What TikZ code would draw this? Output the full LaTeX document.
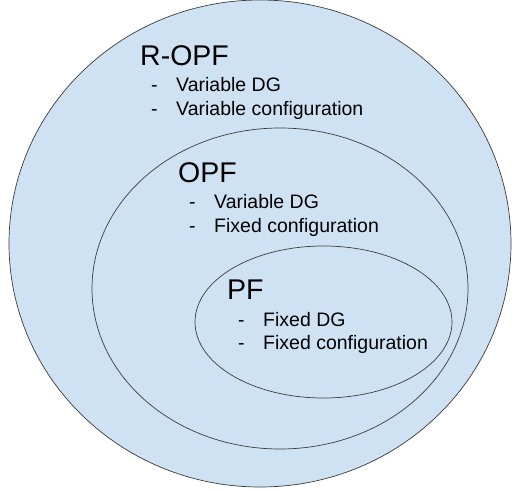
\documentclass[tikz,border=0pt]{standalone}
\usepackage{fontspec}
\setmainfont{Liberation Sans}
\usetikzlibrary{shapes.geometric}
\definecolor{fillblue}{HTML}{CFE2F3}
\definecolor{edge}{HTML}{3C3C3C}
\tikzset{
  region/.style={ellipse, draw=edge, fill=fillblue, line width=0.7pt, inner sep=0pt},
  title/.style={anchor=base west, inner sep=0pt, font=\fontsize{28.5}{30}\selectfont},
  item/.style={anchor=base west, inner sep=0pt, font=\fontsize{19.5}{22}\selectfont},
}
\newcommand{\bitem}[1]{\makebox[25pt][l]{-}#1}
\begin{document}
\begin{tikzpicture}[x=1pt,y=-1pt]
\useasboundingbox (0,0) rectangle (512,490);
\node[region, minimum width=502pt, minimum height=487pt] (ropf) at (260,243.5) {};
\node[region, minimum width=376pt, minimum height=321pt] (opf) at (280,288.5) {};
\node[region, minimum width=257pt, minimum height=152pt] (pf) at (323.5,322) {};
\node[title] (t1) at (140,65) {R-OPF};
\node[item] (t1a) at (151,91) {\bitem{Variable DG}};
\node[item] (t1b) at (151,115) {\bitem{Variable configuration}};
\node[title] (t2) at (178,182) {OPF};
\node[item] (t2a) at (189,208) {\bitem{Variable DG}};
\node[item] (t2b) at (189,232) {\bitem{Fixed configuration}};
\node[title] (t3) at (227,299) {PF};
\node[item] (t3a) at (238,326) {\bitem{Fixed DG}};
\node[item] (t3b) at (238,349) {\bitem{Fixed configuration}};
\end{tikzpicture}
\end{document}
